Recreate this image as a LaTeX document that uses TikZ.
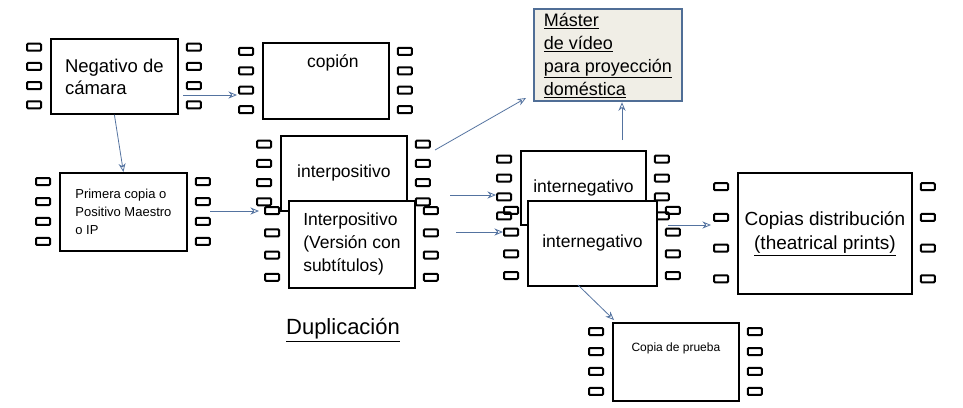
\documentclass[tikz,border=0pt]{standalone}
\usepackage{fontspec}
\setmainfont{Liberation Sans}
\usetikzlibrary{arrows.meta}
\usetikzlibrary{calc}
\definecolor{arrowblue}{RGB}{84,115,160}
\definecolor{masterfill}{RGB}{240,238,230}
\definecolor{masterdraw}{RGB}{80,110,150}
\newcommand{\filmholes}[1]{%
	\foreach \f in {0.12,0.37,0.62,0.87}{
		\draw[hole] ($(#1.north west)!\f!(#1.south west)+(-23,-3.5)$) rectangle ++(14,7);
		\draw[hole] ($(#1.north east)!\f!(#1.south east)+(8,-3.5)$) rectangle ++(14,7);
	}}

\begin{document}
\begin{tikzpicture}
	[x=1pt,y=-1pt,
	frame/.style={draw, line width=1.8pt, fill=white, anchor=north west, inner sep=6pt, align=left},
	hole/.style={line width=2pt, rounded corners=1pt},
	flow/.style={-{Stealth[angle'=45,open,scale=1.3]}, arrowblue, line width=0.8pt}];

	\useasboundingbox (0,0) rectangle (963,407);

	%Frames
	\node[frame, minimum width=127pt, minimum height=75pt, font=\fontsize{18.5}{22}\selectfont] (neg) at (50,38) {Negativo de\\cámara};
	\filmholes{neg}
	\node[frame, minimum width=126pt, minimum height=76pt, font=\fontsize{17.5}{20}\selectfont, text depth=40pt] (copion) at (262,42) {\hspace*{14pt}copión};
	\filmholes{copion}
	\node[frame, minimum width=127pt, minimum height=78pt, font=\fontsize{13}{18}\selectfont] (prim) at (59,172) {Primera copia o\\Positivo Maestro\\o IP};
	\filmholes{prim}
	\node[frame, minimum width=126pt, minimum height=75pt, font=\fontsize{17.5}{20}\selectfont] (ipos) at (280,135) {interpositivo};
	\filmholes{ipos}
	\node[frame, minimum width=126pt, minimum height=87pt, font=\fontsize{17.5}{23}\selectfont] (iposv) at (288,200) {Interpositivo\\(Versión con\\subtítulos)};
	\filmholes{iposv}
	\node[frame, minimum width=125pt, minimum height=74pt, font=\fontsize{17.5}{20}\selectfont] (ineg) at (520,150) {internegativo};
	\filmholes{ineg}
	\node[frame, minimum width=129pt, minimum height=85pt, font=\fontsize{17.5}{20}\selectfont] (inegb) at (527,200) {internegativo};
	\filmholes{inegb}
	\node[frame, minimum width=174pt, minimum height=121pt, font=\fontsize{19}{24}\selectfont, align=center] (dist) at (737,172) {Copias distribución\\\underline{(theatrical prints)}};
	\filmholes{dist}
	\node[frame, minimum width=126pt, minimum height=78pt, font=\fontsize{12}{14}\selectfont, text depth=30pt] (prueba) at (612,322) {Copia de prueba};
	\filmholes{prueba}

	\node[draw=masterdraw, fill=masterfill, line width=1.8pt, anchor=north west, minimum width=148pt, minimum height=92pt, align=left, inner sep=4pt, font=\fontsize{18}{23}\selectfont] (master) at (533,8) {\underline{Máster}\\\underline{de vídeo}\\\underline{para proyección}\\\underline{doméstica}};

	\node[font=\fontsize{22}{26}\selectfont] (dup) at (343,330) {\underline{Duplicación}};

	%Arrows
	\coordinate (a1) at (183,95);   \coordinate (b1) at (237,95);
	\coordinate (a2) at (210,211);  \coordinate (b2) at (259,211);
	\coordinate (a3) at (435,150);  \coordinate (b3) at (526,98);
	\coordinate (a4) at (450,195);  \coordinate (b4) at (496,195);
	\coordinate (a5) at (456,232);  \coordinate (b5) at (503,232);
	\coordinate (a6) at (622,140);
	\coordinate (a7) at (668,225);  \coordinate (b7) at (711,225);
	\coordinate (a8) at (578,285);  \coordinate (b8) at (614,320);
	\draw[flow] (a1) -- (b1);
	\draw[flow] (neg.south) -- (prim.north);
	\draw[flow] (a2) -- (b2);
	\draw[flow] (a3) -- (b3);
	\draw[flow] (a4) -- (b4);
	\draw[flow] (a5) -- (b5);
	\draw[flow] (a6) -- (a6 |- master.south);
	\draw[flow] (a7) -- (b7);
	\draw[flow] (a8) -- (b8);
\end{tikzpicture}
\end{document}
